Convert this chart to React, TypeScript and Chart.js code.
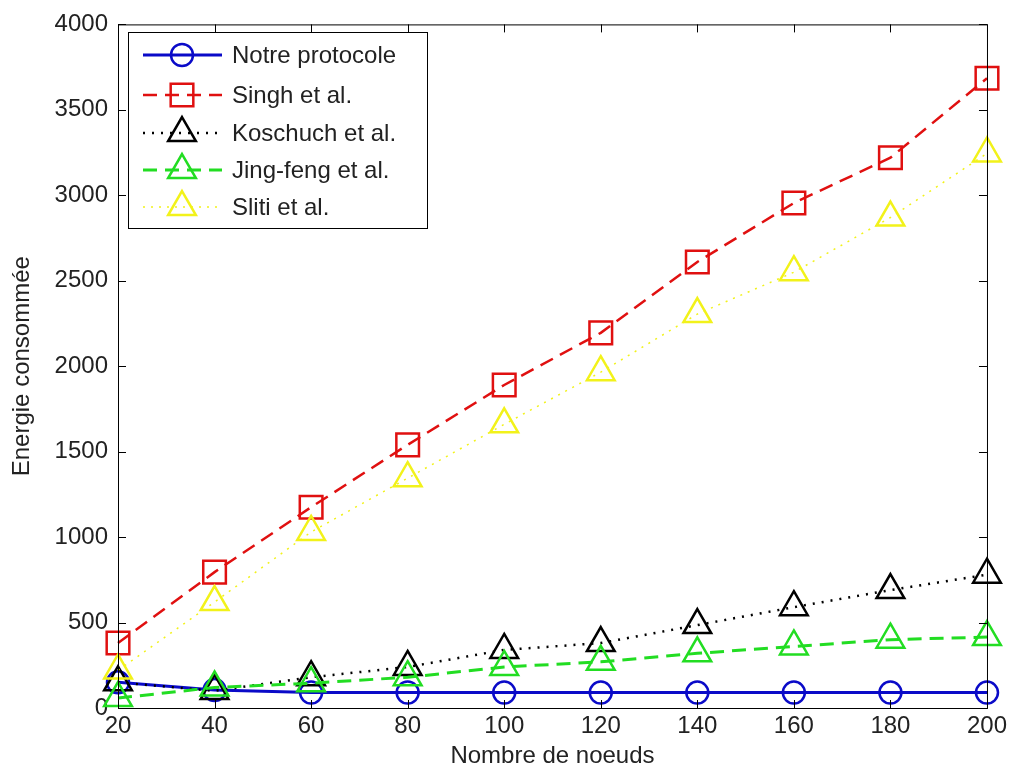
import React, { useEffect, useRef } from "react";
import { Chart, registerables } from "chart.js";
import { drawPoint } from "chart.js/helpers";

Chart.register(...registerables);

const nodes = [20, 40, 60, 80, 100, 120, 140, 160, 180, 200];
const notreProtocole = [150, 105, 90, 90, 90, 90, 90, 90, 90, 90];
const singh = [380, 795, 1175, 1540, 1890, 2195, 2610, 2955, 3220, 3685];
const koschuch = [150, 100, 180, 240, 340, 380, 485, 590, 690, 780];
const jingFeng = [58, 120, 145, 180, 240, 270, 320, 360, 400, 415];
const sliti = [220, 620, 1030, 1345, 1660, 1965, 2305, 2550, 2870, 3245];

const seriesNames = ["Notre protocole", "Singh et al.", "Koschuch et al.", "Jing-feng et al.", "Sliti et al."];
const xTitle = "Nombre de noeuds";
const yTitle = "Energie consommée";

const FONT = "'Liberation Sans', Arial, Helvetica, sans-serif";

const styles = [
  { color: "#0a0ac8", dash: [] as number[], width: 3, point: "circle", radius: 11, pw: 2.5 },
  { color: "#e01010", dash: [14, 8], width: 2.5, point: "rect", radius: 16, pw: 2.5 },
  { color: "#000000", dash: [2, 7], width: 2.5, point: "triangle", radius: 16, pw: 2.5 },
  { color: "#22dd22", dash: [14, 8], width: 3, point: "triangle", radius: 16, pw: 2.5 },
  { color: "#f2f21a", dash: [2, 6], width: 1.5, point: "triangle", radius: 16, pw: 2.5 },
];

const frame = {
  id: "frame",
  afterDraw(chart: any) {
    const { ctx, chartArea } = chart;
    const { left, right, top, bottom } = chartArea;
    ctx.save();
    ctx.strokeStyle = "#000";
    ctx.lineWidth = 1;
    ctx.setLineDash([]);
    ctx.strokeRect(left + 0.5, top + 0.5, right - left, bottom - top);
    const xs = chart.scales.x;
    const ys = chart.scales.y;
    const tl = 8;
    ctx.beginPath();
    xs.ticks.forEach((t: any) => {
      const px = Math.round(xs.getPixelForValue(t.value)) + 0.5;
      ctx.moveTo(px, bottom);
      ctx.lineTo(px, bottom - tl);
      ctx.moveTo(px, top);
      ctx.lineTo(px, top + tl);
    });
    ys.ticks.forEach((t: any) => {
      const py = Math.round(ys.getPixelForValue(t.value)) + 0.5;
      ctx.moveTo(left, py);
      ctx.lineTo(left + tl, py);
      ctx.moveTo(right, py);
      ctx.lineTo(right - tl, py);
    });
    ctx.stroke();

    // legend
    const lx = 128, ly = 32, lw = 299, lh = 196;
    ctx.fillStyle = "#fff";
    ctx.fillRect(lx, ly, lw, lh);
    ctx.strokeRect(lx + 0.5, ly + 0.5, lw, lh);
    const rows = [55, 95, 133, 170, 207];
    seriesNames.forEach((name, i) => {
      const s = styles[i];
      const y = rows[i];
      ctx.strokeStyle = s.color;
      ctx.lineWidth = s.width;
      ctx.setLineDash(s.dash);
      ctx.beginPath();
      ctx.moveTo(143, y);
      ctx.lineTo(222, y);
      ctx.stroke();
      ctx.setLineDash([]);
      ctx.lineWidth = s.pw;
      ctx.fillStyle = "rgba(0,0,0,0)";
      drawPoint(ctx, { pointStyle: s.point, radius: s.radius, rotation: 0, borderWidth: s.pw } as any, 182, y);
      ctx.fillStyle = "#222";
      ctx.font = "24px " + FONT;
      ctx.textAlign = "left";
      ctx.textBaseline = "middle";
      ctx.fillText(name, 232, y + 1);
    });
    ctx.restore();
  },
};

export default function App() {
  const ref = useRef<HTMLCanvasElement>(null);
  useEffect(() => {
    const series = [notreProtocole, singh, koschuch, jingFeng, sliti];
    const chart = new Chart(ref.current as HTMLCanvasElement, {
      type: "line",
      data: {
        datasets: series.map((vals, i) => ({
          label: seriesNames[i],
          data: vals.map((v, j) => ({ x: nodes[j], y: v })),
          borderColor: styles[i].color,
          borderWidth: styles[i].width,
          borderDash: styles[i].dash,
          backgroundColor: "rgba(0,0,0,0)",
          pointStyle: styles[i].point as any,
          pointRadius: styles[i].radius,
          pointBorderWidth: styles[i].pw,
          pointBorderColor: styles[i].color,
          pointBackgroundColor: "rgba(0,0,0,0)",
          fill: false,
          tension: 0,
          clip: false as any,
          order: 4 - i,
        })),
      },
      options: {
        animation: false,
        responsive: false,
        devicePixelRatio: 1,
        layout: { padding: { top: 24, right: 22, left: 0, bottom: 0 } },
        plugins: { legend: { display: false }, tooltip: { enabled: false } },
        scales: {
          x: {
            type: "linear",
            min: 20,
            max: 200,
            ticks: { stepSize: 20, color: "#222", font: { family: FONT, size: 24 }, padding: 4, maxRotation: 0, callback: (v: any) => String(v) },
            grid: { display: false, drawTicks: false },
            border: { display: false },
            title: { display: true, text: xTitle, color: "#222", font: { family: FONT, size: 24 }, padding: { top: 0, bottom: 7 } },
            afterFit: (s: any) => { s.height = 70; },
          },
          y: {
            min: 0,
            max: 4000,
            ticks: { stepSize: 500, color: "#222", font: { family: FONT, size: 24 }, padding: 10, callback: (v: any) => String(v) },
            grid: { display: false, drawTicks: false },
            border: { display: false },
            title: { display: true, text: yTitle, color: "#222", font: { family: FONT, size: 24 }, padding: { top: 8, bottom: 0 } },
            afterFit: (s: any) => { s.width = 118; },
          },
        },
      },
      plugins: [frame],
    });
    return () => chart.destroy();
  }, []);
  return (
    <div style={{ position: "absolute", left: 0, top: 0, width: 1011, height: 778, background: "#fff" }}>
      <canvas ref={ref} width={1011} height={778} />
    </div>
  );
}
